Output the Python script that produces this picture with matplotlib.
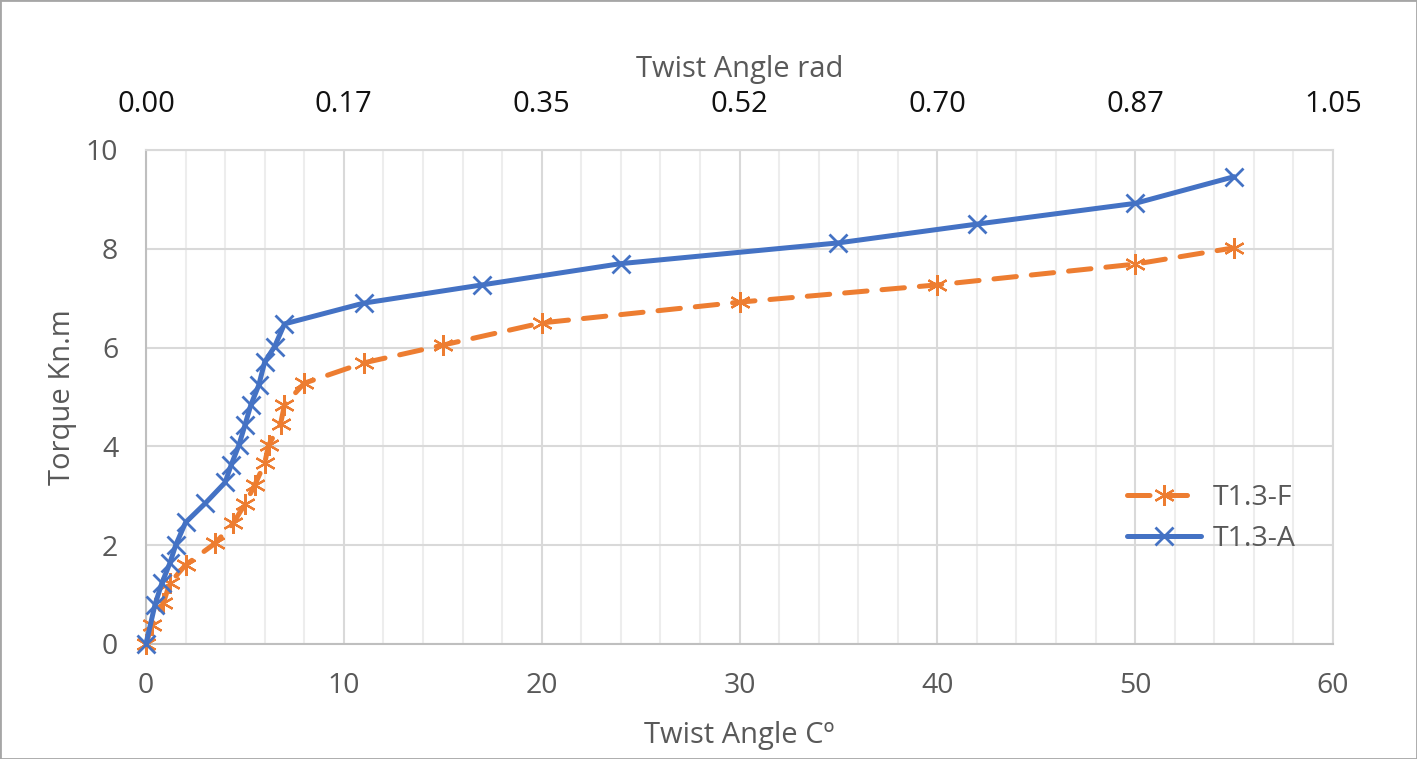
import numpy as np
import matplotlib
matplotlib.use("Agg")
import matplotlib.pyplot as plt
from matplotlib.ticker import MultipleLocator, FormatStrFormatter
from matplotlib.patches import Rectangle

# T1.3-F (dashed orange)
f_angle = [0, 0.3, 0.87, 1.2, 2, 3.5, 4.4, 5, 5.5, 6, 6.2, 6.8, 7, 8, 11, 15, 20, 30, 40, 50, 55]
f_torque = [0, 0.38, 0.82, 1.23, 1.6, 2.04, 2.44, 2.83, 3.22, 3.66, 4.03, 4.45, 4.84, 5.28,
            5.69, 6.05, 6.5, 6.92, 7.27, 7.69, 8.02]

# T1.3-A (solid blue)
a_angle = [0, 0.45, 0.8, 1.2, 1.5, 2, 3, 4, 4.3, 4.7, 5, 5.3, 5.7, 6, 6.5, 7,
           11, 17, 24, 35, 42, 50, 55]
a_torque = [0, 0.79, 1.23, 1.63, 2.0, 2.46, 2.85, 3.27, 3.62, 4.03, 4.43, 4.84, 5.24, 5.71,
            6.02, 6.48, 6.9, 7.27, 7.7, 8.12, 8.5, 8.92, 9.46]

deg_ticks = [0, 10, 20, 30, 40, 50, 60]

plt.rcParams['font.family'] = ['Open Sans', 'DejaVu Sans']

fig = plt.figure(figsize=(14.17, 7.59), dpi=100)
ax = fig.add_axes([146 / 1417, 1 - 644 / 759, (1333 - 146) / 1417, (644 - 150) / 759])

orange = '#ED7D31'
blue = '#4472C4'
grey = '#595959'

ax.plot(f_angle, f_torque, color=orange, lw=3.6, ls=(0, (4.5, 3)), dash_capstyle='round',
        marker=(6, 2, 0), ms=15, mew=1.6, mec=orange, label='T1.3-F', zorder=3, clip_on=False)
ax.plot(a_angle, a_torque, color=blue, lw=3.6, solid_capstyle='round',
        marker='x', ms=13, mew=2.0, mec=blue, label='T1.3-A', zorder=4, clip_on=False)

ax.set_xlim(0, 60)
ax.set_ylim(0, 10)
ax.xaxis.set_major_locator(MultipleLocator(10))
ax.xaxis.set_minor_locator(MultipleLocator(2))
ax.yaxis.set_major_locator(MultipleLocator(2))
ax.grid(which='major', axis='both', color='#D9D9D9', lw=1.5)
ax.grid(which='minor', axis='x', color='#EDEDED', lw=1.5)
ax.set_axisbelow(True)
for s in ax.spines.values():
    s.set_color('#D9D9D9')
    s.set_linewidth(1.5)
ax.spines['left'].set_color('#BFBFBF')
ax.spines['bottom'].set_color('#BFBFBF')

ax.tick_params(which='both', length=0)
ax.tick_params(axis='x', pad=20, labelsize=20.5, labelcolor=grey)
ax.tick_params(axis='y', pad=20, labelsize=20.5, labelcolor=grey)

ax.set_xlabel('Twist Angle Cº', fontsize=21, color=grey)
ax.xaxis.set_label_coords(0.5, -0.155)
ax.set_ylabel('Torque Kn.m', fontsize=21, color=grey)
ax.yaxis.set_label_coords(-0.058, 0.5)

top = ax.secondary_xaxis('top', functions=(np.radians, np.degrees))
top.set_xticks(np.radians(deg_ticks))
top.xaxis.set_major_formatter(FormatStrFormatter('%.2f'))
top.tick_params(length=0, pad=22, labelsize=21, labelcolor='#111111')
top.spines['top'].set_visible(False)
top.set_xlabel('Twist Angle rad', fontsize=21, color=grey, labelpad=10)

leg = ax.legend(loc='upper left', bbox_to_anchor=(0.805, 0.375), frameon=False, fontsize=20.5,
                handlelength=2.6, labelspacing=0.45, handletextpad=0.4)
for t in leg.get_texts():
    t.set_color(grey)

fig.add_artist(Rectangle((0, 0), 1, 1, transform=fig.transFigure, fill=False,
                         edgecolor='#A6A6A6', lw=2))

fig.savefig('out.png', dpi=100)
